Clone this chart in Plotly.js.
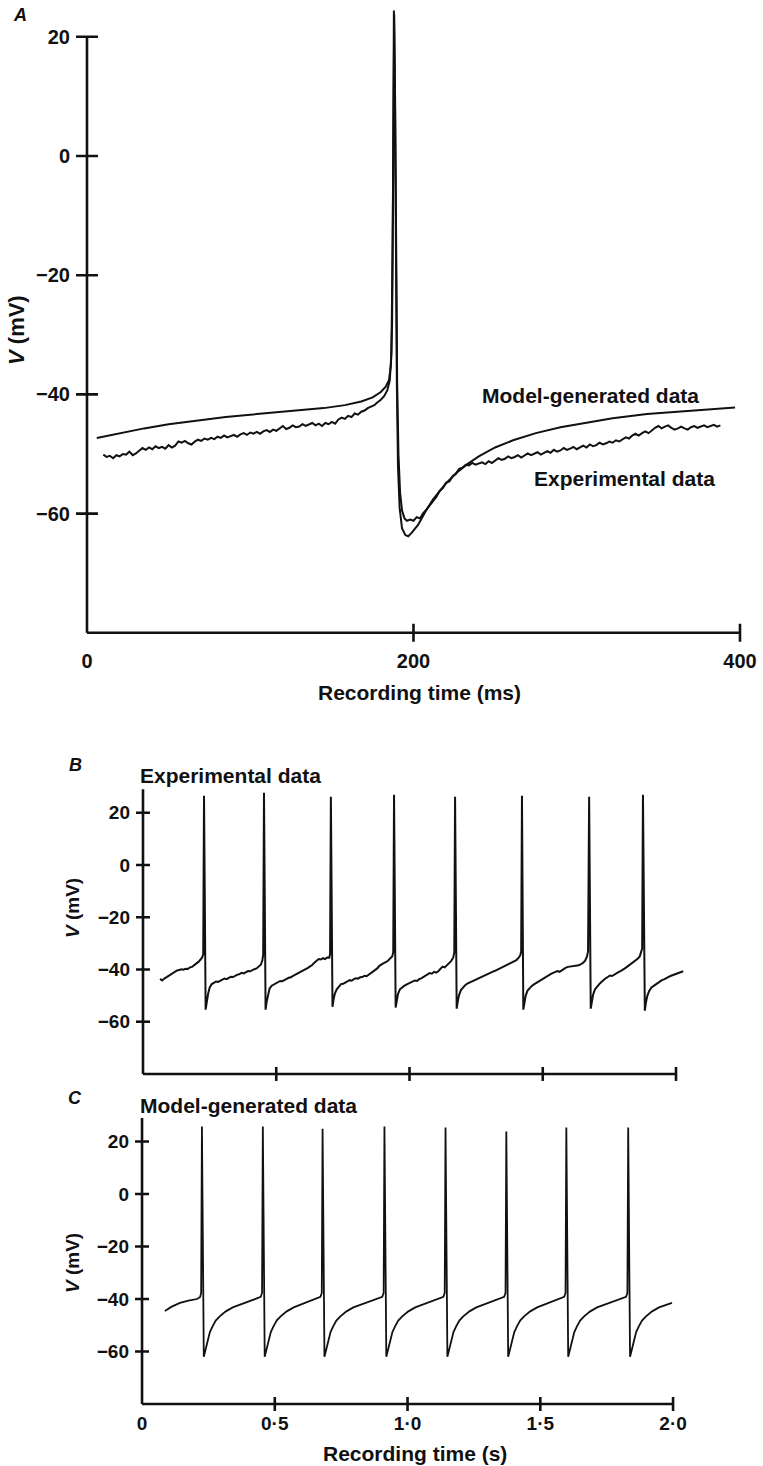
<!DOCTYPE html>
<html>
<head>
<meta charset="utf-8">
<script src="https://cdn.plot.ly/plotly-3.0.1.min.js"></script>
<style>
html,body{margin:0;padding:0;background:#fff;}
#chart{width:763px;height:1466px;}
</style>
</head>
<body>
<div id="chart"></div>
<script>
// ---------------- DATA ----------------
// Panel A : single action potential (time in ms, V in mV)
const modelA = [
 [6,-47.3],[15,-46.8],[25,-46.2],[35,-45.7],[50,-45.0],[69,-44.3],[85,-43.8],[100,-43.4],
 [115,-43.0],[130,-42.7],[145,-42.3],[158,-41.8],[168,-41.2],[175,-40.5],[180,-39.6],[183,-38.7],
 [185,-37.6],[186.2,-35],[186.9,-28],[187.4,-10],[188,24.4],
 [188.6,12],[189.2,-15],[189.8,-38],[190.5,-52],[191.5,-59],[193,-62.5],[195,-63.6],
 [196.8,-63.8],[199,-63.2],[203,-61.8],[207,-59.8],[212,-57.6],[220,-54.9],[227,-53.0],
 [233,-51.7],[240,-50.4],[250,-48.9],[261,-47.7],[275,-46.5],[290,-45.5],[302,-44.9],
 [322,-44.0],[343,-43.3],[370,-42.7],[397,-42.2]
];
const expA = [
 [10,-50.1],[12,-50.5],[14,-50.3],[16,-50.7],[18,-50.2],[20,-50.4],[22,-50.0],[24,-50.1],
 [26,-49.6],[28,-50.2],[30,-49.9],[32,-49.5],[34,-49.0],[36,-49.3],[38,-48.9],[40,-49.2],
 [42,-48.7],[44,-49.0],[46,-48.8],[48,-49.1],[50,-48.5],[52,-48.9],[54,-48.6],[56,-47.9],
 [58,-48.1],[60,-47.8],[62,-48.2],[64,-48.4],[66,-47.9],[68,-47.6],[70,-47.8],[72,-47.4],
 [74,-47.6],[76,-47.3],[78,-47.5],[80,-47.1],[82,-47.3],[84,-46.9],[86,-47.2],[88,-47.0],
 [90,-46.8],[92,-47.1],[94,-46.7],[96,-46.5],[98,-46.8],[100,-46.4],[102,-46.6],[104,-46.3],
 [106,-46.6],[108,-46.2],[110,-46.0],[112,-46.3],[114,-45.9],[116,-46.1],[118,-45.7],[120,-45.3],
 [122,-45.8],[124,-45.6],[126,-45.2],[128,-45.5],[130,-45.4],[132,-45.0],[134,-45.3],[136,-45.1],
 [138,-44.8],[140,-45.2],[142,-44.9],[144,-45.3],[146,-44.8],[148,-45.0],[150,-44.6],[152,-44.9],
 [154,-44.2],[156,-43.9],[158,-44.1],[160,-43.6],[162,-43.8],[164,-43.2],[166,-43.4],[168,-42.9],
 [170,-42.7],[172,-42.3],[174,-42.1],[176,-41.8],[178,-41.3],[180,-40.9],[182,-40.3],[184,-39.3],
 [185.5,-37.6],[186.5,-33],[187.2,-15],[187.8,10],[188.2,23.8],[188.8,8],[189.4,-18],[190,-38],
 [190.8,-50],[191.8,-56.5],[193,-59.5],[194.5,-60.8],[196,-61.2],[198,-61.0],
 [200,-61.2],[202,-60.6],[204,-60.8],[206,-59.9],[208,-59.3],[210,-58.5],[212,-57.9],[214,-57.2],
 [216,-56.2],[218,-55.7],[220,-54.8],[222,-54.6],[224,-53.7],[226,-53.3],[228,-52.5],[230,-52.3],
 [232,-51.8],[234,-51.9],[236,-51.5],[238,-51.8],[240,-51.6],[242,-51.4],[244,-51.7],[246,-51.2],
 [248,-51.5],[250,-51.1],[252,-50.7],[254,-51.0],[256,-50.8],[258,-50.4],[260,-50.7],[262,-50.5],
 [264,-50.2],[266,-50.6],[268,-50.3],[270,-49.9],[272,-50.2],[274,-50.0],[276,-49.7],[278,-50.1],
 [280,-49.8],[282,-49.5],[284,-49.8],[286,-49.3],[288,-49.6],[290,-49.4],[292,-49.0],[294,-49.3],
 [296,-49.1],[298,-48.8],[300,-49.2],[302,-48.9],[304,-48.6],[306,-48.9],[308,-48.4],[310,-48.7],
 [312,-48.5],[314,-48.1],[316,-48.4],[318,-48.2],[320,-47.9],[322,-48.1],[324,-47.7],[326,-47.9],
 [328,-47.5],[330,-47.2],[332,-47.4],[334,-46.9],[336,-46.6],[338,-46.9],[340,-46.5],[342,-46.2],
 [344,-46.5],[346,-46.0],[348,-45.6],[350,-45.3],[352,-45.7],[354,-45.4],[356,-45.2],[358,-45.6],
 [360,-45.9],[362,-45.7],[364,-45.4],[366,-45.7],[368,-45.9],[370,-45.5],[372,-45.3],[374,-45.6],
 [376,-45.4],[378,-45.2],[380,-45.5],[382,-45.3],[384,-45.1],[386,-45.4],[388,-45.2]
];

// Panel B : experimental spike train (time in s, V in mV)
const expB = [
 [0.064,-43.6],[0.072,-44.2],[0.080,-43.5],[0.088,-43.0],[0.096,-42.4],[0.104,-42.0],[0.112,-41.3],
 [0.120,-41.0],[0.128,-40.4],[0.136,-40.2],[0.144,-39.9],[0.152,-40.1],[0.160,-39.7],[0.168,-39.8],
 [0.176,-39.2],[0.184,-39.0],[0.192,-38.4],[0.200,-37.9],[0.208,-37.1],[0.216,-36.2],[0.222,-35.4],
 [0.226,-34.2],[0.229,26.5],[0.235,-55.4],[0.239,-52.5],[0.244,-49.5],[0.250,-47.0],[0.258,-45.6],
 [0.266,-45.1],[0.274,-44.6],[0.282,-44.8],[0.290,-44.2],[0.298,-43.9],[0.306,-43.5],[0.314,-43.7],
 [0.322,-43.2],[0.330,-42.8],[0.338,-42.9],[0.346,-42.4],[0.354,-42.0],[0.362,-41.8],[0.370,-41.3],
 [0.378,-41.5],[0.386,-40.9],[0.394,-40.6],[0.402,-40.7],[0.410,-40.2],[0.418,-39.9],[0.426,-39.6],
 [0.434,-38.9],[0.442,-38.2],[0.448,-36.5],[0.451,-34.3],[0.454,27.6],[0.460,-55.4],[0.464,-52.4],
 [0.469,-49.6],[0.475,-47.3],[0.483,-46.2],[0.491,-45.7],[0.499,-45.2],[0.507,-44.9],[0.515,-44.4],
 [0.523,-44.5],[0.531,-43.9],[0.539,-43.6],[0.547,-43.2],[0.555,-43.0],[0.563,-42.5],[0.571,-42.1],
 [0.579,-41.6],[0.587,-41.0],[0.595,-40.7],[0.603,-40.2],[0.611,-40.0],[0.619,-39.4],[0.627,-38.8],
 [0.635,-38.3],[0.643,-37.4],[0.651,-36.6],[0.659,-36.0],[0.667,-36.2],[0.675,-35.7],[0.683,-36.0],
 [0.691,-35.4],[0.699,-35.5],[0.702,-34.0],[0.705,26.1],[0.711,-54.3],[0.715,-51.5],[0.720,-49.2],
 [0.727,-47.6],[0.735,-46.5],[0.743,-45.6],[0.751,-45.5],[0.759,-44.9],[0.767,-44.6],[0.775,-44.1],
 [0.783,-44.3],[0.791,-43.7],[0.799,-43.4],[0.807,-43.5],[0.815,-43.0],[0.823,-42.9],[0.831,-42.4],
 [0.839,-42.6],[0.847,-42.0],[0.855,-41.5],[0.863,-41.1],[0.871,-40.4],[0.879,-39.6],[0.887,-38.6],
 [0.895,-38.0],[0.903,-37.6],[0.911,-37.2],[0.919,-36.7],[0.927,-35.8],[0.935,-35.0],[0.939,-33.5],
 [0.942,26.9],[0.948,-54.6],[0.952,-51.8],[0.957,-49.3],[0.964,-47.6],[0.972,-46.8],[0.980,-46.3],
 [0.988,-45.8],[0.996,-45.4],[1.004,-45.0],[1.012,-44.6],[1.020,-44.2],[1.028,-44.4],[1.036,-43.7],
 [1.044,-43.4],[1.052,-42.8],[1.060,-42.3],[1.068,-41.9],[1.076,-41.4],[1.084,-41.6],[1.092,-40.9],
 [1.100,-41.2],[1.108,-40.7],[1.116,-39.6],[1.124,-38.9],[1.132,-39.2],[1.140,-38.5],[1.148,-37.6],
 [1.156,-36.8],[1.164,-35.5],[1.168,-33.5],[1.171,26.1],[1.177,-55.0],[1.181,-52.3],[1.186,-49.8],
 [1.193,-47.9],[1.201,-46.8],[1.209,-46.0],[1.217,-45.4],[1.225,-45.0],[1.233,-44.5],[1.241,-44.2],
 [1.249,-43.7],[1.257,-43.4],[1.265,-43.0],[1.273,-42.7],[1.281,-42.2],[1.289,-41.9],[1.297,-41.5],
 [1.305,-41.2],[1.313,-40.8],[1.321,-40.5],[1.329,-40.1],[1.337,-39.8],[1.345,-39.4],[1.353,-39.1],
 [1.361,-38.6],[1.369,-38.3],[1.377,-37.9],[1.385,-37.5],[1.393,-37.0],[1.401,-36.4],[1.409,-35.6],
 [1.416,-34.5],[1.419,-33.0],[1.422,26.5],[1.427,-55.4],[1.431,-52.6],[1.436,-50.0],[1.443,-48.1],
 [1.451,-47.0],[1.459,-46.3],[1.467,-45.7],[1.475,-45.2],[1.483,-44.6],[1.491,-44.0],[1.499,-43.4],
 [1.507,-43.0],[1.515,-42.5],[1.523,-42.1],[1.531,-41.7],[1.539,-41.3],[1.547,-41.0],[1.555,-40.6],
 [1.563,-40.9],[1.571,-40.3],[1.579,-39.6],[1.587,-39.3],[1.595,-39.0],[1.603,-38.9],[1.611,-38.7],
 [1.619,-38.8],[1.627,-38.5],[1.635,-38.4],[1.643,-38.0],[1.651,-37.5],[1.659,-36.6],[1.666,-35.0],
 [1.670,-33.0],[1.674,26.1],[1.680,-55.0],[1.684,-52.3],[1.689,-49.6],[1.696,-47.6],[1.704,-46.5],
 [1.712,-45.6],[1.720,-44.8],[1.728,-44.0],[1.736,-43.4],[1.744,-42.9],[1.752,-42.3],[1.760,-42.5],
 [1.768,-41.9],[1.776,-41.4],[1.784,-41.0],[1.792,-40.6],[1.800,-40.2],[1.808,-39.6],[1.816,-39.0],
 [1.824,-38.4],[1.832,-37.8],[1.840,-37.2],[1.848,-36.7],[1.856,-35.9],[1.864,-35.0],[1.870,-33.5],
 [1.873,-32.0],[1.876,26.9],[1.883,-55.8],[1.887,-52.8],[1.892,-50.2],[1.899,-48.3],[1.907,-47.0],
 [1.915,-46.4],[1.923,-45.8],[1.931,-45.2],[1.939,-44.7],[1.947,-44.1],[1.955,-43.8],[1.963,-43.2],
 [1.971,-42.9],[1.979,-42.5],[1.987,-42.2],[1.995,-41.8],[2.003,-41.6],[2.011,-41.3],[2.019,-41.0],
 [2.027,-40.7]
];

// Panel C : model-generated spike train (time in s, V in mV)
const modelC = [
 [0.086,-44.6],[0.110,-43.0],[0.143,-41.5],[0.175,-40.6],[0.207,-40.0],[0.219,-39.2],[0.2226,-37.7],
 [0.2256,25.7],[0.2326,-62],[0.2376,-60],[0.2426,-57.5],[0.2476,-55.4],[0.2556,-52.6],[0.2656,-50.4],
 [0.2776,-48.2],[0.2926,-46.6],[0.3156,-44.7],[0.3416,-43.2],[0.3756,-41.9],[0.4056,-40.9],[0.4306,-39.9],
 [0.447,-39.2],[0.452,-37.7],[0.455,25.7],
 [0.462,-62],[0.467,-60],[0.472,-57.5],[0.477,-55.4],[0.485,-52.6],[0.495,-50.4],[0.507,-48.2],
 [0.522,-46.6],[0.545,-44.7],[0.571,-43.2],[0.605,-41.9],[0.635,-40.9],[0.660,-39.9],[0.672,-39.2],
 [0.677,-37.7],[0.680,24.9],
 [0.687,-62],[0.692,-60],[0.697,-57.5],[0.702,-55.4],[0.710,-52.6],[0.720,-50.4],[0.732,-48.2],
 [0.747,-46.6],[0.770,-44.7],[0.796,-43.2],[0.830,-41.9],[0.860,-40.9],[0.885,-39.9],[0.905,-39.2],
 [0.910,-37.7],[0.913,25.7],
 [0.920,-62],[0.925,-60],[0.930,-57.5],[0.935,-55.4],[0.943,-52.6],[0.953,-50.4],[0.965,-48.2],
 [0.980,-46.6],[1.003,-44.7],[1.029,-43.2],[1.063,-41.9],[1.093,-40.9],[1.118,-39.9],[1.135,-39.2],
 [1.140,-37.7],[1.143,25.3],
 [1.150,-62],[1.155,-60],[1.160,-57.5],[1.165,-55.4],[1.173,-52.6],[1.183,-50.4],[1.195,-48.2],
 [1.210,-46.6],[1.233,-44.7],[1.259,-43.2],[1.293,-41.9],[1.323,-40.9],[1.348,-39.9],[1.364,-39.2],
 [1.369,-37.7],[1.372,23.8],
 [1.379,-62],[1.384,-60],[1.389,-57.5],[1.394,-55.4],[1.402,-52.6],[1.412,-50.4],[1.424,-48.2],
 [1.439,-46.6],[1.462,-44.7],[1.488,-43.2],[1.522,-41.9],[1.552,-40.9],[1.577,-39.9],[1.590,-39.2],
 [1.595,-37.7],[1.598,25.3],
 [1.605,-62],[1.610,-60],[1.615,-57.5],[1.620,-55.4],[1.628,-52.6],[1.638,-50.4],[1.650,-48.2],
 [1.665,-46.6],[1.688,-44.7],[1.714,-43.2],[1.748,-41.9],[1.778,-40.9],[1.803,-39.9],[1.823,-39.2],
 [1.828,-37.7],[1.831,25.3],
 [1.838,-62],[1.843,-60],[1.848,-57.5],[1.853,-55.4],[1.861,-52.6],[1.871,-50.4],[1.883,-48.2],
 [1.898,-46.6],[1.921,-44.7],[1.947,-43.2],[1.981,-41.9],[1.996,-41.5]
];

// Tick values / labels
const yTickVals = [20, 0, -20, -40, -60];
const yTickText = ['20', '0', '\u221220', '\u221240', '\u221260'];
const xTickValsA = [0, 200, 400];
const xTickTextA = ['0', '200', '400'];
const xTickMarksA = [200, 400];
const xTickValsBC = [0, 0.5, 1.0, 1.5, 2.0];
const xTickTextC = ['0', '0\u00b75', '1\u00b70', '1\u00b75', '2\u00b70'];
const xTickMarksBC = [0.5, 1.0, 1.5, 2.0];

// ---------------- LAYOUT HELPERS ----------------
const W = 763, H = 1466;
const px = x => x / W;
const py = y => 1 - y / H;
const FONT = '"Liberation Sans", Arial, Helvetica, sans-serif';
const INK = '#111';

function xs(a){ return a.map(p => p[0]); }
function ys(a){ return a.map(p => p[1]); }

const traces = [
  {x: xs(modelA), y: ys(modelA), xaxis:'x', yaxis:'y', mode:'lines', line:{color:INK, width:2}, hoverinfo:'skip'},
  {x: xs(expA), y: ys(expA), xaxis:'x', yaxis:'y', mode:'lines', line:{color:INK, width:2}, hoverinfo:'skip'},
  {x: xs(expB), y: ys(expB), xaxis:'x2', yaxis:'y2', mode:'lines', line:{color:INK, width:2}, hoverinfo:'skip'},
  {x: xs(modelC), y: ys(modelC), xaxis:'x3', yaxis:'y3', mode:'lines', line:{color:INK, width:1.8}, hoverinfo:'skip'}
];

// axis frame lines and crossing tick marks, as shapes
const shapes = [];
function frame(xr, yr, x0, x1, y0, y1, xMarks, yMarks, yTickHalf, xTickHalf, w){
  shapes.push({type:'line', xref:xr, yref:yr, x0:x0, x1:x0, y0:y0, y1:y1, line:{color:INK, width:w}});
  shapes.push({type:'line', xref:xr, yref:yr, x0:x0, x1:x1, y0:y0, y1:y0, line:{color:INK, width:w}});
  yMarks.forEach(v => shapes.push({type:'line', xref:xr, yref:yr, xsizemode:'pixel', xanchor:x0,
      x0:-yTickHalf, x1:yTickHalf, y0:v, y1:v, line:{color:INK, width:w}}));
  xMarks.forEach(v => shapes.push({type:'line', xref:xr, yref:yr, ysizemode:'pixel', yanchor:y0,
      y0:-xTickHalf, y1:xTickHalf, x0:v, x1:v, line:{color:INK, width:w}}));
}
frame('x', 'y', 0, 400, -80, 20, xTickMarksA, yTickVals, 11, 9, 2.6);
frame('x2', 'y2', 0, 2.0, -80, 29, xTickMarksBC, yTickVals, 7, 7, 2.6);
frame('x3', 'y3', 0, 2.0, -80, 29, xTickMarksBC, yTickVals, 7, 7, 2.6);

const tickFontBig = {family:FONT, size:20, color:INK, weight:'bold'};
const tickFontSm = {family:FONT, size:19, color:INK, weight:'bold'};
const baseAx = {showgrid:false, zeroline:false, showline:false, ticks:'', fixedrange:true};

const layout = {
  width: W, height: H,
  margin: {l:0, r:0, t:0, b:0},
  paper_bgcolor:'#fff', plot_bgcolor:'rgba(0,0,0,0)',
  showlegend:false,
  font:{family:FONT, color:INK},
  // Panel A
  xaxis: Object.assign({}, baseAx, {domain:[px(62.5), px(756.3)], range:[-15, 410], anchor:'free', position:py(632.8),
          tickmode:'array', tickvals:xTickValsA, ticktext:xTickTextA, tickfont:tickFontBig, ticklabelstandoff:14}),
  yaxis: Object.assign({}, baseAx, {domain:[py(650.7), py(7.0)], range:[-83, 25], anchor:'free', position:px(87),
          tickmode:'array', tickvals:yTickVals, ticktext:yTickText, tickfont:tickFontBig, ticklabelstandoff:17}),
  // Panel B
  xaxis2: Object.assign({}, baseAx, {domain:[px(127), px(692)], range:[-0.06, 2.06], anchor:'free', position:py(1074),
          tickmode:'array', tickvals:xTickValsBC, showticklabels:false}),
  yaxis2: Object.assign({}, baseAx, {domain:[py(1083.1), py(786.6)], range:[-83.5, 30], anchor:'free', position:px(143),
          tickmode:'array', tickvals:yTickVals, ticktext:yTickText, tickfont:tickFontSm, ticklabelstandoff:13}),
  // Panel C
  xaxis3: Object.assign({}, baseAx, {domain:[px(126.1), px(689)], range:[-0.06, 2.06], anchor:'free', position:py(1404),
          tickmode:'array', tickvals:xTickValsBC, ticktext:xTickTextC, tickfont:tickFontSm, ticklabelstandoff:6}),
  yaxis3: Object.assign({}, baseAx, {domain:[py(1413.2), py(1115.25)], range:[-83.5, 30], anchor:'free', position:px(142),
          tickmode:'array', tickvals:yTickVals, ticktext:yTickText, tickfont:tickFontSm, ticklabelstandoff:13}),
  shapes: shapes,
  annotations: []
};

function ann(text, x, y, size, opts){
  layout.annotations.push(Object.assign({text:text, xref:'paper', yref:'paper', x:px(x), y:py(y),
    showarrow:false, xanchor:'center', yanchor:'middle',
    font:{family:FONT, size:size, color:INK, weight:'bold'}}, opts || {}));
}
// panel letters
ann('<i>A</i>', 20, 15, 18);
ann('<i>B</i>', 75, 765, 18);
ann('<i>C</i>', 75, 1098, 18);
// series labels
ann('Model-generated data', 480, 395, 21, {xanchor:'left'});
ann('Experimental data', 532, 478, 21, {xanchor:'left'});
ann('Experimental data', 138, 775, 21, {xanchor:'left'});
ann('Model-generated data', 138, 1105, 21, {xanchor:'left'});
// axis titles
ann('Recording time (ms)', 419, 693, 21);
ann('Recording time (s)', 415, 1453, 21);
ann('<i>V</i> (mV)', 16, 330, 22, {textangle:-90});
ann('<i>V</i> (mV)', 72, 908, 19, {textangle:-90});
ann('<i>V</i> (mV)', 72, 1263, 19, {textangle:-90});

Plotly.newPlot('chart', traces, layout, {displayModeBar:false, staticPlot:true});
</script>
</body>
</html>
